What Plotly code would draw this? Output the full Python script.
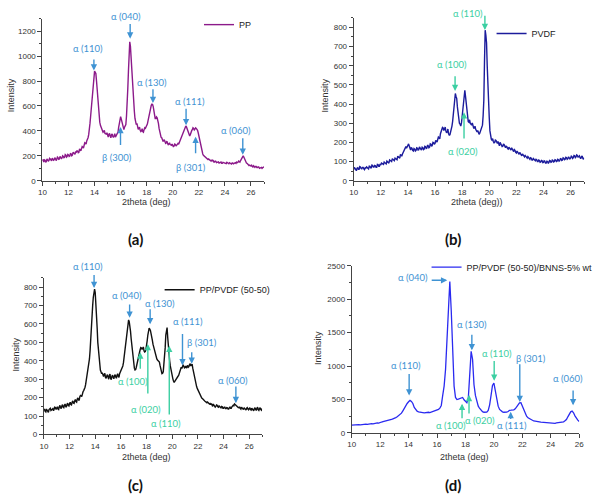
import plotly.graph_objects as go

# ---------------- data ----------------
two_theta_abc = [round(10 + 0.05 * i, 2) for i in range(341)]   # 10.00 .. 27.00
two_theta_d = [round(10 + 0.1 * i, 1) for i in range(161)]      # 10.0 .. 26.0

pp = [
    158, 172, 150, 168, 165, 148, 155, 175, 170, 158, 162, 180, 175, 160, 160, 182, 172, 165, 168, 185,
    178, 162, 170, 190, 185, 172, 175, 195, 190, 178, 182, 200, 195, 185, 188, 210, 205, 190, 196, 212,
    208, 195, 198, 220, 215, 200, 205, 228, 222, 210, 212, 235, 230, 240, 238, 225, 228, 255, 248, 240,
    258, 275, 270, 262, 285, 305, 300, 295, 320, 330, 345, 370, 400, 460, 520, 590, 650, 720, 760, 830,
    880, 870, 860, 800, 730, 640, 560, 500, 470, 445, 430, 425, 410, 390, 395, 405, 380, 372, 375, 385,
    365, 350, 372, 380, 358, 345, 368, 375, 355, 348, 362, 378, 350, 360, 365, 385, 390, 430, 470, 505,
    515, 495, 470, 440, 425, 410, 430, 450, 450, 520, 600, 740, 880, 1010, 1115, 1080, 980, 880, 760, 690,
    620, 560, 500, 470, 450, 460, 430, 412, 420, 430, 405, 395, 400, 418, 395, 390, 410, 425, 420, 432,
    440, 455, 480, 510, 540, 565, 590, 605, 615, 612, 595, 560, 520, 500, 500, 512, 505, 490, 460, 420,
    390, 370, 350, 345, 330, 318, 320, 330, 315, 300, 305, 318, 300, 290, 295, 305, 290, 282, 285, 295,
    288, 272, 280, 295, 292, 278, 285, 300, 300, 292, 305, 312, 320, 335, 350, 362, 375, 390, 400, 420,
    440, 432, 415, 395, 375, 360, 360, 372, 395, 402, 410, 425, 420, 408, 415, 425, 420, 412, 405, 385,
    360, 330, 300, 270, 245, 228, 215, 205, 200, 192, 185, 182, 178, 172, 170, 175, 168, 162, 160, 165,
    158, 165, 162, 150, 150, 158, 156, 145, 148, 155, 152, 142, 145, 152, 150, 140, 140, 148, 146, 138,
    142, 135, 138, 148, 145, 135, 136, 145, 140, 132, 134, 142, 142, 135, 138, 146, 145, 140, 150, 145,
    148, 158, 155, 150, 162, 170, 175, 188, 200, 190, 175, 160, 150, 142, 140, 132, 128, 122, 125, 118,
    118, 125, 112, 108, 120, 112, 108, 115, 115, 105, 105, 112, 110, 100, 102, 110, 108, 100, 104, 110,
    106,
]

pvdf = [
    58, 70, 65, 55, 52, 66, 68, 60, 60, 74, 72, 64, 62, 70, 70, 62, 58, 68, 66, 72,
    70, 64, 62, 76, 75, 68, 68, 82, 80, 72, 72, 80, 78, 70, 70, 86, 85, 76, 76, 88,
    82, 92, 90, 84, 85, 98, 95, 88, 88, 102, 98, 92, 92, 108, 105, 98, 100, 115, 110, 104,
    105, 118, 115, 108, 110, 128, 125, 118, 118, 138, 135, 128, 140, 148, 150, 162, 165, 178, 170, 182,
    185, 192, 175, 165, 160, 172, 170, 158, 155, 168, 165, 155, 158, 172, 170, 160, 162, 176, 168, 160,
    160, 175, 172, 162, 165, 180, 178, 168, 170, 186, 182, 172, 175, 192, 190, 180, 185, 200, 198, 190,
    195, 210, 205, 202, 215, 228, 225, 218, 245, 258, 265, 278, 275, 262, 268, 280, 260, 250, 255, 270,
    245, 238, 240, 255, 262, 285, 310, 350, 390, 425, 455, 440, 430, 385, 340, 318, 300, 295, 285, 300,
    330, 380, 420, 455, 472, 440, 400, 350, 315, 308, 305, 318, 300, 290, 290, 302, 285, 275, 275, 285,
    268, 260, 255, 262, 250, 242, 248, 258, 265, 275, 290, 340, 420, 620, 785, 760, 720, 600, 480, 400,
    330, 260, 225, 218, 210, 220, 205, 198, 200, 212, 210, 200, 195, 205, 190, 182, 200, 192, 185, 178,
    180, 192, 188, 175, 172, 180, 178, 168, 165, 175, 170, 160, 160, 172, 165, 155, 152, 162, 158, 148,
    145, 155, 150, 140, 138, 148, 142, 132, 130, 140, 135, 128, 125, 132, 128, 120, 118, 126, 122, 114,
    112, 120, 118, 108, 108, 116, 112, 104, 104, 112, 110, 100, 100, 108, 106, 96, 98, 106, 104, 95,
    96, 104, 102, 92, 92, 102, 100, 92, 95, 106, 104, 96, 98, 108, 106, 98, 100, 110, 108, 100,
    102, 112, 110, 102, 105, 116, 115, 106, 108, 120, 118, 110, 112, 122, 120, 112, 115, 125, 122, 114,
    118, 128, 125, 116, 120, 132, 130, 120, 124, 135, 132, 124, 126, 130, 120, 115, 125, 130, 118, 112,
    120,
]

blend = [
    130, 138, 125, 122, 138, 132, 128, 120, 135, 142, 142, 130, 132, 138, 140, 128, 135, 148, 145, 136,
    143, 150, 138, 135, 150, 158, 145, 140, 155, 162, 148, 145, 158, 165, 152, 148, 162, 170, 158, 155,
    168, 175, 162, 160, 175, 182, 170, 168, 182, 190, 178, 175, 192, 198, 188, 185, 205, 212, 210, 205,
    225, 232, 238, 245, 255, 270, 290, 310, 330, 352, 375, 410, 455, 540, 620, 660, 700, 745, 785, 790,
    770, 720, 660, 580, 500, 450, 400, 370, 350, 340, 330, 335, 320, 315, 325, 332, 310, 305, 318, 325,
    312, 300, 320, 328, 305, 298, 315, 322, 310, 302, 318, 325, 312, 305, 322, 330, 315, 310, 330, 338,
    340, 352, 365, 372, 390, 420, 460, 490, 520, 560, 590, 610, 622, 612, 595, 560, 520, 480, 440, 410,
    380, 360, 350, 352, 365, 385, 405, 420, 430, 445, 460, 472, 470, 462, 468, 475, 455, 448, 450, 462,
    480, 510, 540, 565, 578, 572, 565, 548, 535, 512, 490, 475, 460, 445, 430, 420, 410, 404, 400, 398,
    393, 375, 360, 345, 330, 332, 340, 375, 410, 470, 540, 565, 580, 525, 470, 430, 400, 372, 350, 335,
    320, 302, 290, 282, 288, 295, 300, 306, 310, 316, 320, 335, 350, 362, 365, 358, 370, 378, 370, 362,
    365, 372, 360, 368, 375, 365, 368, 380, 384, 372, 378, 382, 360, 340, 320, 305, 290, 275, 260, 250,
    242, 232, 225, 218, 210, 205, 198, 195, 190, 185, 182, 180, 178, 174, 172, 176, 170, 165, 165, 168,
    162, 168, 158, 152, 165, 160, 155, 148, 152, 160, 158, 150, 148, 155, 152, 145, 145, 152, 150, 142,
    142, 148, 148, 140, 140, 146, 145, 138, 138, 145, 148, 142, 142, 150, 152, 158, 155, 165, 162, 158,
    160, 155, 150, 146, 145, 150, 142, 138, 148, 145, 138, 135, 145, 140, 135, 132, 142, 145, 138, 134,
    140, 145, 135, 132, 142, 138, 132, 128, 140, 145, 136, 130, 142, 148, 134, 130, 140, 145, 136, 132,
    140,
]

bnns = [
    115, 118, 112, 120, 118, 122, 120, 125, 122, 128,
    130, 128, 135, 132, 138, 135, 142, 140, 148, 145,
    160, 162, 168, 172, 175, 182, 188, 195, 200, 210,
    216, 228, 240, 258, 275, 295, 330, 370, 400, 440,
    465, 485, 470, 440, 380, 345, 325, 315, 308, 305,
    304, 300, 306, 302, 308, 304, 310, 315, 322, 330,
    338, 350, 370, 410, 560, 700, 950, 1400, 1950, 2265,
    1833, 1150, 700, 530, 500, 505, 510, 525, 530, 495,
    465, 450, 520, 900, 1220, 1100, 720, 560, 480, 400,
    365, 340, 318, 308, 304, 310, 335, 420, 560, 710,
    745, 640, 480, 400, 350, 324, 315, 308, 304, 310,
    320, 338, 340, 338, 345, 360, 390, 430, 450, 452,
    395, 340, 290, 250, 225, 210, 195, 185, 178, 176,
    175, 170, 165, 160, 158, 152, 150, 146, 145, 142,
    142, 140, 145, 142, 148, 150, 152, 155, 157, 165,
    180, 200, 240, 280, 315, 325, 300, 255, 215, 190,
    170,
]

series_names = ["PP", "PVDF", "PP/PVDF (50-50)", "PP/PVDF (50-50)/BNNS-5% wt"]
x_titles = ["2theta (deg)", "2theta (deg))", "2theta (deg)", "2theta (deg)"]
panel_tags = ["(a)", "(b)", "(c)", "(d)"]

# peak labels: (panel, text, colour-key, label_x, label_y, head_x, head_y, tail_x, tail_y)
peak_labels = [
    (1, "α (110)", "b", 13.5, 1065, 13.95, 885, 13.95, 985),
    (1, "α (040)", "b", 16.44, 1318, 16.73, 1140, 16.73, 1270),
    (1, "α (130)", "b", 18.4, 790, 18.48, 623, 18.48, 746),
    (1, "α (111)", "b", 21.3, 633, 21.02, 445, 21.02, 589),
    (1, "α (060)", "b", 24.82, 400, 25.37, 209, 25.37, 353),
    (1, "β (300)", "b", 15.71, 188, 15.99, 432, 15.99, 275),
    (1, "β (301)", "b", 21.4, 105, 21.75, 353, 21.75, 209),
    (2, "α (110)", "g", 18.4, 870, 19.68, 786, 19.68, 868),
    (2, "α (100)", "g", 17.22, 604, 17.48, 468, 17.48, 553),
    (2, "α (020)", "g", 18.06, 150, 18.14, 357, 18.14, 213),
    (3, "α (110)", "b", 13.42, 911, 13.91, 795, 13.91, 875),
    (3, "α (040)", "b", 16.48, 754, 16.68, 634, 16.68, 714),
    (3, "α (130)", "b", 19.05, 714, 18.28, 598, 18.28, 688),
    (3, "α (111)", "b", 21.21, 611, 20.8, 375, 20.8, 554),
    (3, "β (301)", "b", 22.34, 500, 21.52, 384, 21.52, 455),
    (3, "α (060)", "b", 24.73, 295, 24.96, 170, 24.96, 268),
    (3, "α (100)", "g", 16.94, 289, 17.51, 446, 17.51, 348),
    (3, "α (020)", "g", 17.97, 137, 18.1, 491, 18.1, 214),
    (3, "α (110)", "g", 19.51, 60, 19.77, 482, 19.77, 100),
    (4, "α (110)", "b", 13.79, 1010, 14.04, 559, 14.04, 902),
    (4, "α (040)", "b", 14.3, 2333, 16.72, 2284, 15.52, 2284),
    (4, "α (130)", "b", 18.45, 1627, 18.45, 1235, 18.45, 1490),
    (4, "α (110)", "g", 20.23, 1181, 20.02, 779, 20.02, 1098),
    (4, "β (301)", "b", 22.61, 1118, 21.82, 461, 21.82, 1049),
    (4, "α (060)", "b", 25.22, 814, 25.57, 412, 25.57, 657),
    (4, "α (100)", "g", 17.0, 105, 17.76, 436, 17.76, 195),
    (4, "α (020)", "g", 19.0, 185, 18.25, 569, 18.25, 268),
    (4, "α (111)", "b", 21.25, 105, 21.18, 314, 21.18, 185),
]

# ---------------- layout geometry (pixels in a 599x500 page) ----------------
W, H = 599, 500
def px(x):
    return x / W
def py(y):
    return 1 - y / H

panels = [
    dict(xdom=(39, 264), ydom=(180, 15), xr=[10, 27], yr=[0, 1300], ydt=200, ymin=100),
    dict(xdom=(355, 589), ydom=(180, 14), xr=[10, 27], yr=[0, 850], ydt=100, ymin=50),
    dict(xdom=(40.5, 262), ydom=(438.3, 279), xr=[10, 27], yr=[0, 850], ydt=100, ymin=50),
    dict(xdom=(353, 584), ydom=(436.7, 266.7), xr=[10, 26], yr=[0, 2500], ydt=500, ymin=250),
]

def to_paper(pn, xv, yv):
    p = panels[pn - 1]
    x0, x1 = p["xdom"]
    y0, y1 = p["ydom"]
    fx = (xv - p["xr"][0]) / (p["xr"][1] - p["xr"][0])
    fy = (yv - p["yr"][0]) / (p["yr"][1] - p["yr"][0])
    return px(x0 + fx * (x1 - x0)), py(y0 + fy * (y1 - y0))

colors = ["#8c1a8a", "#1c1c9c", "#111111", "#2a2af0"]
line_widths = [1.4, 1.4, 1.4, 1.3]
label_colors = {"b": "#3f93d3", "g": "#3ccfa2"}
xs = [two_theta_abc, two_theta_abc, two_theta_abc, two_theta_d]
ys = [pp, pvdf, blend, bnns]

legend_pos = [(198, 21), (495, 30), (158, 291), (429, 268)]
ytitle_pos = [(7, 93), (326, 93), (12, 357), (318, 350)]
xtitle_pos = [(145, 202), (480, 202), (145, 461), (468, 461)]
tag_pos = [(134, 239), (456, 239), (134, 490), (456, 490)]

tick_font = dict(family="Liberation Sans, Arial", size=8, color="#333")
fig = go.Figure()
layout = dict(width=W, height=H, margin=dict(l=0, r=0, t=0, b=0),
              paper_bgcolor="white", plot_bgcolor="white", showlegend=True)
annotations = []

def paper_text(text, x, y, font, angle=0):
    return dict(text=text, x=x, y=y, xref="paper", yref="paper", showarrow=False,
                xanchor="center", yanchor="middle", textangle=angle, borderpad=0, font=font)

for i in range(4):
    n = "" if i == 0 else str(i + 1)
    p = panels[i]
    lg = "legend" if i == 0 else f"legend{i + 1}"
    fig.add_trace(go.Scatter(
        x=xs[i], y=ys[i], mode="lines", name=series_names[i],
        line=dict(color=colors[i], width=line_widths[i]),
        xaxis="x" + n, yaxis="y" + n, legend=lg))
    layout["xaxis" + n] = dict(
        domain=[px(p["xdom"][0]), px(p["xdom"][1])], range=p["xr"],
        anchor="y" + n, showgrid=False, zeroline=False, showline=True,
        linecolor="#444", linewidth=1, ticks="outside", ticklen=4,
        tickcolor="#444", dtick=2, tick0=10, tickfont=tick_font,
        minor=dict(ticks="outside", ticklen=2, dtick=1, tickcolor="#444", showgrid=False))
    layout["yaxis" + n] = dict(
        domain=[py(p["ydom"][0]), py(p["ydom"][1])], range=p["yr"],
        anchor="x" + n, showgrid=False, zeroline=False, showline=True,
        linecolor="#444", linewidth=1, ticks="outside", ticklen=4,
        tickcolor="#444", dtick=p["ydt"], tick0=0, tickfont=tick_font,
        minor=dict(ticks="outside", ticklen=2, dtick=p["ymin"], tickcolor="#444", showgrid=False))
    lx, ly = legend_pos[i]
    layout[lg] = dict(x=px(lx), y=py(ly), xanchor="left", yanchor="middle",
                      bgcolor="rgba(0,0,0,0)", borderwidth=0, itemwidth=30,
                      font=dict(family="Liberation Sans, Arial", size=9, color="#222"))
    tx, ty = ytitle_pos[i]
    annotations.append(paper_text("Intensity", px(tx), py(ty),
                                  dict(family="Liberation Sans, Arial", size=9, color="#333"), -90))
    tx, ty = xtitle_pos[i]
    annotations.append(paper_text(x_titles[i], px(tx), py(ty),
                                  dict(family="Liberation Sans, Arial", size=9, color="#333")))
    tx, ty = tag_pos[i]
    annotations.append(paper_text("<b>" + panel_tags[i] + "</b>", px(tx), py(ty),
                                  dict(family="Lato, Open Sans", size=15, color="#111")))

for (pn, txt, ck, lx, ly, hx, hy, tx, ty) in peak_labels:
    n = "" if pn == 1 else str(pn)
    c = label_colors[ck]
    ppx, ppy = to_paper(pn, lx, ly)
    annotations.append(paper_text(txt, ppx, ppy, dict(family="Lato, Open Sans", size=9.5, color=c)))
    annotations.append(dict(text="", x=hx, y=hy, ax=tx, ay=ty,
                            xref="x" + n, yref="y" + n, axref="x" + n, ayref="y" + n,
                            showarrow=True, arrowhead=2, arrowsize=0.9, arrowwidth=1.4,
                            arrowcolor=c))

layout["annotations"] = annotations
fig.update_layout(**layout)
fig.write_html("out.html")
